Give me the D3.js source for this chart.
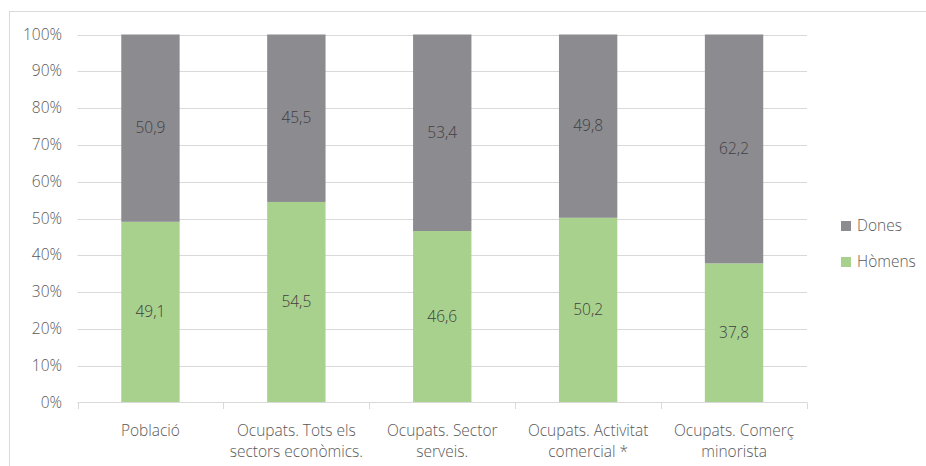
<!DOCTYPE html>
<html>
<head>
<meta charset="utf-8">
<script src="https://cdn.jsdelivr.net/npm/d3@7"></script>
<style>
  body { margin: 0; background: #fff; }
  svg text { font-family: "Open Sans", "Noto Sans", sans-serif; font-weight: 300; }
</style>
</head>
<body>
<svg width="926" height="466"></svg>
<script>
const categories = [
  ['Població'],
  ['Ocupats. Tots els', 'sectors econòmics.'],
  ['Ocupats. Sector', 'serveis.'],
  ['Ocupats. Activitat', 'comercial *'],
  ['Ocupats. Comerç', 'minorista']
];
const homens = [49.1, 54.5, 46.6, 50.2, 37.8];
const dones = [50.9, 45.5, 53.4, 49.8, 62.2];
const yTicks = [0, 10, 20, 30, 40, 50, 60, 70, 80, 90, 100];

const svg = d3.select('svg');
const fmt = v => String(v.toFixed(1)).replace('.', ',');

// chart border
svg.append('rect')
  .attr('x', 9.5).attr('y', 11.5)
  .attr('width', 940).attr('height', 500)
  .attr('fill', 'none').attr('stroke', '#d9d9d9');

const x = d3.scaleBand()
  .domain(d3.range(categories.length))
  .range([77.5, 807])
  .paddingInner(0.6).paddingOuter(0.3);
const band = d3.scaleBand().domain(d3.range(categories.length)).range([77.5, 807]);
const y = d3.scaleLinear().domain([0, 100]).range([402.5, 34.5]);

// gridlines
svg.append('g').selectAll('line')
  .data(yTicks.filter(d => d > 0))
  .join('line')
  .attr('x1', 77.5).attr('x2', 807)
  .attr('y1', d => Math.round(y(d)) + 0.5).attr('y2', d => Math.round(y(d)) + 0.5)
  .attr('stroke', '#d9d9d9').attr('stroke-width', 1);

// y labels
svg.append('g').selectAll('text')
  .data(yTicks)
  .join('text')
  .attr('x', 62).attr('y', d => y(d) + 5)
  .attr('text-anchor', 'end')
  .attr('font-size', 15.5).attr('fill', '#595959')
  .text(d => d + '%');

const stacked = categories.map((c, i) => ({ i, h: homens[i], d: dones[i] }));

// bars
const bars = svg.append('g');
bars.selectAll('rect.h').data(stacked).join('rect').attr('class', 'h')
  .attr('x', d => x(d.i)).attr('width', x.bandwidth())
  .attr('y', d => y(d.h)).attr('height', d => y(0) - y(d.h))
  .attr('fill', '#a9d18e');
bars.selectAll('rect.d').data(stacked).join('rect').attr('class', 'd')
  .attr('x', d => x(d.i)).attr('width', x.bandwidth())
  .attr('y', d => y(100)).attr('height', d => y(d.h) - y(100))
  .attr('fill', '#8c8b90');

// value labels
bars.selectAll('text.h').data(stacked).join('text').attr('class', 'h')
  .attr('x', d => x(d.i) + x.bandwidth() / 2)
  .attr('y', d => y(d.h / 2) + 5)
  .attr('text-anchor', 'middle').attr('font-size', 15.5).attr('fill', '#404040')
  .text(d => fmt(d.h));
bars.selectAll('text.d').data(stacked).join('text').attr('class', 'd')
  .attr('x', d => x(d.i) + x.bandwidth() / 2)
  .attr('y', d => y(d.h + d.d / 2) + 5)
  .attr('text-anchor', 'middle').attr('font-size', 15.5).attr('fill', '#404040')
  .text(d => fmt(d.d));

// x axis line and ticks
svg.append('line')
  .attr('x1', 77.5).attr('x2', 807).attr('y1', 402.5).attr('y2', 402.5)
  .attr('stroke', '#d9d9d9');
const bounds = d3.range(categories.length + 1).map(i => i < categories.length ? band(i) : 807);
svg.append('g').selectAll('line').data(bounds).join('line')
  .attr('x1', d => Math.round(d) + 0.5).attr('x2', d => Math.round(d) + 0.5)
  .attr('y1', 402.5).attr('y2', 409)
  .attr('stroke', '#d9d9d9');

// x labels
const xl = svg.append('g').selectAll('text').data(categories).join('text')
  .attr('text-anchor', 'middle').attr('font-size', 15.5).attr('fill', '#595959')
  .attr('x', (d, i) => band(i) + band.bandwidth() / 2)
  .attr('y', 436);
xl.selectAll('tspan').data(d => d).join('tspan')
  .attr('x', function () { return this.parentNode.getAttribute('x'); })
  .attr('dy', (d, j) => j === 0 ? 0 : 21)
  .text(d => d);

// legend
const legend = [
  { name: 'Dones', color: '#8c8b90', y: 226 },
  { name: 'Hòmens', color: '#a9d18e', y: 262 }
];
const lg = svg.append('g').selectAll('g').data(legend).join('g');
lg.append('rect')
  .attr('x', 841).attr('y', d => d.y - 5).attr('width', 10).attr('height', 10)
  .attr('fill', d => d.color);
lg.append('text')
  .attr('x', 857).attr('y', d => d.y + 5)
  .attr('font-size', 15.5).attr('fill', '#595959')
  .text(d => d.name);
</script>
</body>
</html>
